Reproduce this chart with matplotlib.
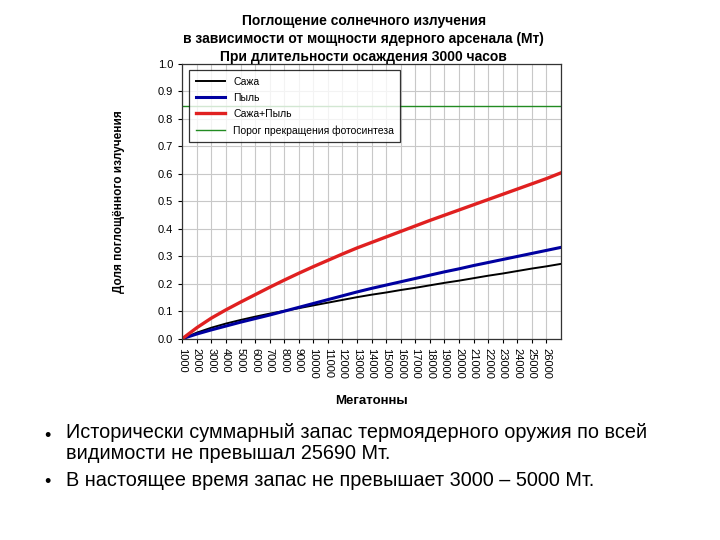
import matplotlib
matplotlib.use("Agg")
import matplotlib.pyplot as plt

plt.rcParams['font.family'] = ['Liberation Sans', 'DejaVu Sans']

# ---- data ----
megatons = [1000, 2000, 3000, 4000, 5000, 6000, 7000, 8000, 9000, 10000,
            11000, 12000, 13000, 14000, 15000, 16000, 17000, 18000, 19000,
            20000, 21000, 22000, 23000, 24000, 25000, 26000, 27000]
soot = [0, 0.022, 0.040, 0.055, 0.068, 0.080, 0.091, 0.101, 0.111, 0.121,
        0.131, 0.141, 0.151, 0.160, 0.168, 0.177, 0.185, 0.194, 0.203,
        0.211, 0.220, 0.229, 0.237, 0.246, 0.255, 0.263, 0.272]
dust = [0, 0.017, 0.032, 0.046, 0.060, 0.073, 0.086, 0.100, 0.114, 0.128,
        0.142, 0.156, 0.170, 0.183, 0.195, 0.207, 0.219, 0.231, 0.243,
        0.254, 0.266, 0.277, 0.288, 0.299, 0.310, 0.321, 0.332]
soot_dust = [0, 0.040, 0.075, 0.105, 0.133, 0.160, 0.187, 0.213, 0.238, 0.262,
             0.285, 0.308, 0.330, 0.350, 0.370, 0.390, 0.410, 0.430, 0.449,
             0.468, 0.487, 0.506, 0.525, 0.544, 0.563, 0.582, 0.603]
threshold = 0.845

series_labels = ["Сажа", "Пыль", "Сажа+Пыль", "Порог прекращения фотосинтеза"]
x_ticks = list(range(1000, 27000, 1000))
y_ticks = [0.0, 0.1, 0.2, 0.3, 0.4, 0.5, 0.6, 0.7, 0.8, 0.9, 1.0]

title_text = ("Поглощение солнечного излучения\n"
              "в зависимости от мощности ядерного арсенала (Мт)\n"
              "При длительности осаждения 3000 часов")
x_label = "Мегатонны"
y_label = "Доля поглощённого излучения"
bullets = ["Исторически суммарный запас термоядерного оружия по всей\nвидимости не превышал 25690 Мт.",
           "В настоящее время запас не превышает 3000 – 5000 Мт."]

# ---- figure ----
fig = plt.figure(figsize=(7.2, 5.4), dpi=100)
ax = fig.add_axes([0.2532, 0.3728, 0.5258, 0.5092])

ax.plot(megatons, soot, color="black", lw=1.4, label=series_labels[0])
ax.plot(megatons, dust, color="#0000a0", lw=2.2, label=series_labels[1])
ax.plot(megatons, soot_dust, color="#e02020", lw=2.4, label=series_labels[2])
ax.axhline(threshold, color="#228b22", lw=1.0, label=series_labels[3])

ax.set_xlim(1000, 27000)
ax.set_ylim(0, 1.0)
ax.set_xticks(x_ticks)
ax.set_xticklabels([str(v) for v in x_ticks], rotation=270, fontsize=8)
ax.set_xticks([27000], minor=True)
ax.set_yticks(y_ticks)
ax.set_yticklabels([f"{v:.1f}" for v in y_ticks], fontsize=8)
ax.grid(True, which="both", color="#c8c8c8", lw=0.8)
ax.tick_params(which="minor", length=0)
ax.tick_params(length=3, width=0.8)
for s in ax.spines.values():
    s.set_color("#333333")
    s.set_linewidth(0.9)

ax.set_xlabel(x_label, fontsize=9.5, fontweight="bold", labelpad=12)
ax.set_ylabel(y_label, fontsize=8.5, fontweight="bold", labelpad=24)

leg = ax.legend(loc="upper left", bbox_to_anchor=(0.005, 0.995), fontsize=7.5,
                frameon=True, fancybox=False, edgecolor="black",
                handlelength=2.8, borderpad=0.6, labelspacing=0.6)
leg.get_frame().set_linewidth(0.9)

fig.text(0.505, 0.974, title_text, ha="center", va="top", fontsize=10,
         fontweight="bold", linespacing=1.38)

fig.text(0.062, 0.192, "•", fontsize=13, va="center")
fig.text(0.092, 0.216, bullets[0], fontsize=14.3, va="top", linespacing=1.12)
fig.text(0.062, 0.106, "•", fontsize=13, va="center")
fig.text(0.092, 0.111, bullets[1], fontsize=14.3, va="center")

fig.savefig("out.png", dpi=100)
